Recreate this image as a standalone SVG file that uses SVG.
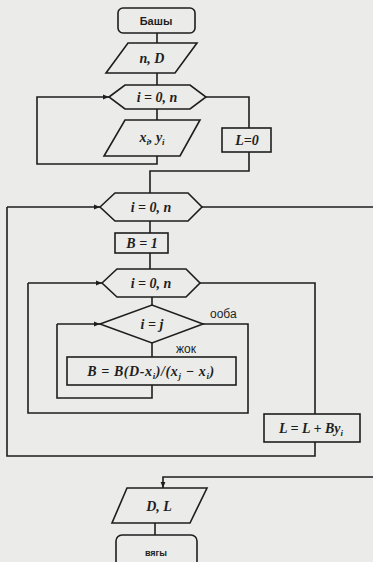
<svg xmlns="http://www.w3.org/2000/svg" width="373" height="562" viewBox="0 0 373 562">
<defs>
<marker id="ah" viewBox="0 0 10 10" refX="10" refY="5" markerWidth="6" markerHeight="6" orient="auto" markerUnits="userSpaceOnUse">
<path d="M0,1 L10,5 L0,9 Z" fill="#1e1e1e"/>
</marker>
<style>
.s{fill:#ebebe9;stroke:#1e1e1e;stroke-width:1.6}
.c{fill:none;stroke:#1e1e1e;stroke-width:1.6}
.m{font-family:"Liberation Serif",serif;font-style:italic;font-weight:bold;font-size:14px;fill:#1e1e1e;text-anchor:middle}
.l{font-family:"Liberation Sans",sans-serif;font-weight:bold;font-size:11px;fill:#1e1e1e;text-anchor:middle}
.t{font-family:"Liberation Sans",sans-serif;font-size:12px;fill:#1e1e1e}
.sub{font-size:9px}
</style>
</defs>
<rect width="373" height="562" fill="#ebebe9"/>
<g id="connectors">
<path class="c" d="M157,33 V43"/>
<path class="c" d="M157,73 V85"/>
<path class="c" d="M157,109 V120"/>
<path class="c" d="M157,156 V164 H37 V97 H109" marker-end="url(#ah)"/>
<path class="c" d="M206,97 H249 V128"/>
<path class="c" d="M249,152 V171 H150 V193"/>
<path class="c" d="M7,207 H100" marker-end="url(#ah)"/>
<path class="c" d="M7,207 V456 H315 V442"/>
<path class="c" d="M202,207 H373"/>
<path class="c" d="M150,221 V233"/>
<path class="c" d="M150,253 V269"/>
<path class="c" d="M28,283 H102" marker-end="url(#ah)"/>
<path class="c" d="M28,283 V413 H248 V324 H203"/>
<path class="c" d="M200,283 H315 V414"/>
<path class="c" d="M152,297 V305"/>
<path class="c" d="M152,343 V357"/>
<path class="c" d="M57,324 H100" marker-end="url(#ah)"/>
<path class="c" d="M152,385 V398 H57 V324"/>
<path class="c" d="M373,477 H163 V488" marker-end="url(#ah)"/>
<path class="c" d="M155,523 V535"/>
</g>
<g id="start">
<rect class="s" x="118" y="8" width="77" height="25" rx="5"/>
<text class="l" x="156" y="25">Башы</text>
</g>
<g id="input1">
<polygon class="s" points="128,43 197,43 175,73 106,73"/>
<text class="m" x="152" y="63">n, D</text>
</g>
<g id="loop1">
<polygon class="s" points="109,97 125,85 190,85 206,97 190,109 125,109"/>
<text class="m" x="157" y="102">i = 0, n</text>
</g>
<g id="input2">
<polygon class="s" points="125,120 200,120 180,156 104,156"/>
<text class="m" x="152" y="142">x<tspan class="sub" dy="3">i</tspan><tspan dy="-3">, y</tspan><tspan class="sub" dy="3">i</tspan></text>
</g>
<g id="initL">
<rect class="s" x="222" y="128" width="49" height="24"/>
<text class="m" x="247" y="145">L=0</text>
</g>
<g id="loop2">
<polygon class="s" points="100,207 115,193 188,193 202,207 188,221 115,221"/>
<text class="m" x="151" y="212">i = 0, n</text>
</g>
<g id="initB">
<rect class="s" x="115" y="233" width="53" height="20"/>
<text class="m" x="142" y="248">B = 1</text>
</g>
<g id="loop3">
<polygon class="s" points="102,283 117,269 186,269 200,283 186,297 117,297"/>
<text class="m" x="151" y="288">i = 0, n</text>
</g>
<g id="cond">
<polygon class="s" points="100,324 152,305 203,324 152,343"/>
<text class="m" x="152" y="329">i = j</text>
<text class="t" x="210" y="318">ооба</text>
<text class="t" x="176" y="353">жок</text>
</g>
<g id="calcB">
<rect class="s" x="67" y="357" width="169" height="28"/>
<text class="m" x="151" y="376" letter-spacing="0.6">B = B(D-x<tspan class="sub" dy="3">i</tspan><tspan dy="-3">)/(x</tspan><tspan class="sub" dy="3">j</tspan><tspan dy="-3"> − x</tspan><tspan class="sub" dy="3">i</tspan><tspan dy="-3">)</tspan></text>
</g>
<g id="calcL">
<rect class="s" x="264" y="414" width="96" height="28"/>
<text class="m" x="311" y="433">L = L + By<tspan class="sub" dy="3">i</tspan></text>
</g>
<g id="output">
<polygon class="s" points="127,488 207,488 190,523 112,523"/>
<text class="m" x="159" y="511">D, L</text>
</g>
<g id="end">
<rect class="s" x="116" y="535" width="81" height="36" rx="6"/>
<text class="l" x="156" y="556" style="font-size:9px">вягы</text>
</g>
</svg>
